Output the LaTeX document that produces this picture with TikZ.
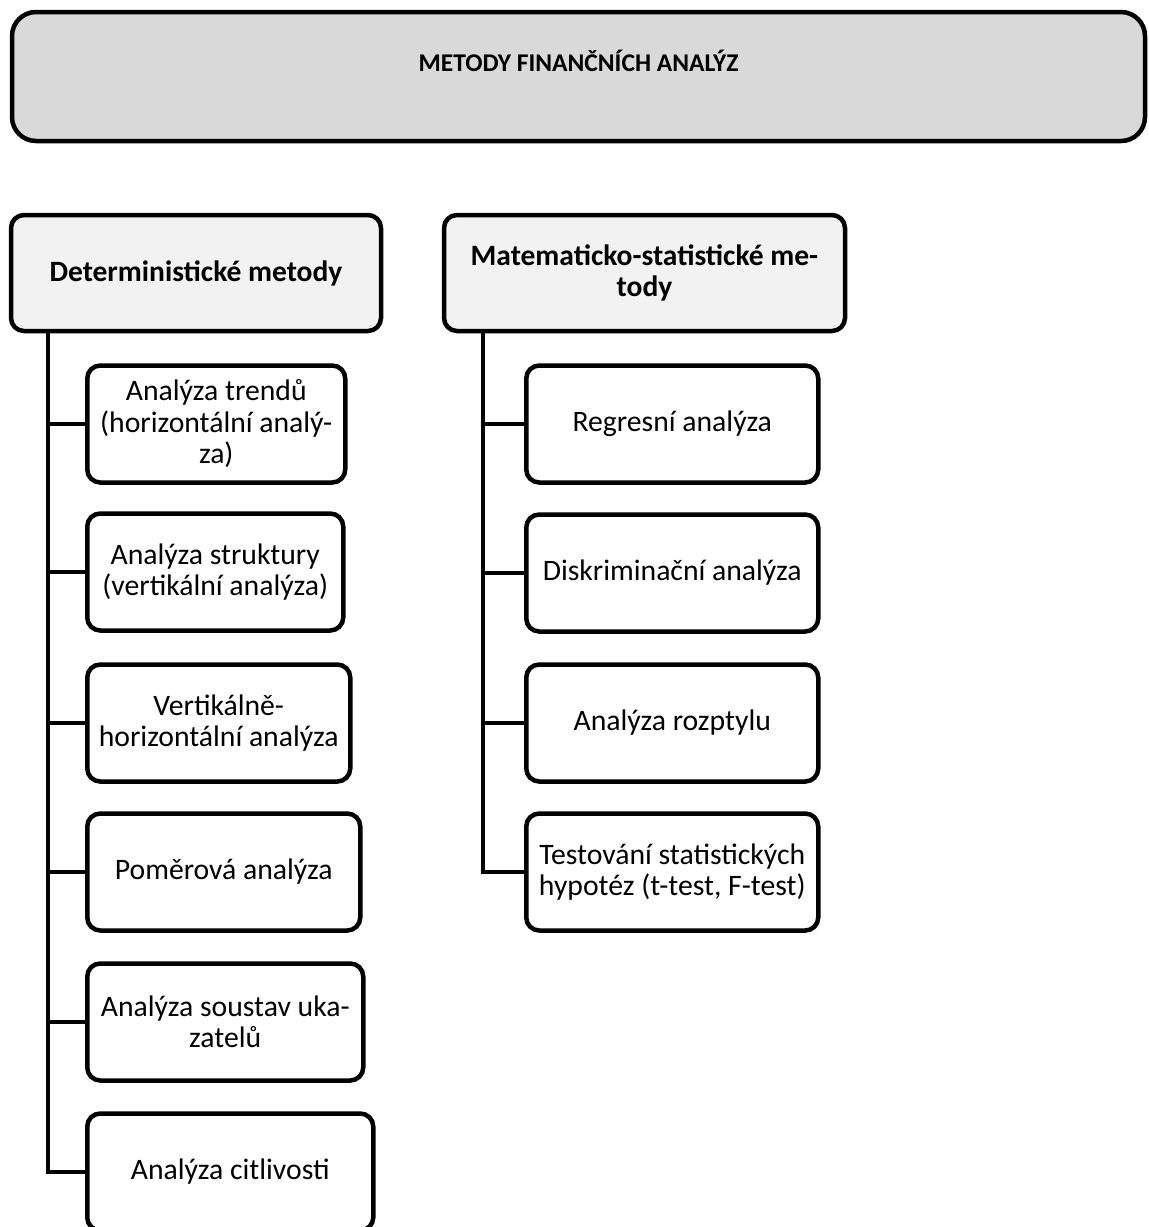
\documentclass[tikz,border=0pt]{standalone}
\usepackage{fontspec}
\setmainfont{Carlito}
\definecolor{hlavni}{HTML}{D9D9D9}
\definecolor{skupina}{HTML}{F2F2F2}
\tikzset{
  ramec/.style={draw, line width=4.5pt, rounded corners=13pt, inner sep=0pt,
    align=center, font=\fontsize{29.7}{31.5}\selectfont},
  hlavnibox/.style={ramec, fill=hlavni, rounded corners=24pt, font=\bfseries\fontsize{25.5}{30}\selectfont},
  skupinabox/.style={ramec, fill=skupina, font=\bfseries\fontsize{29.5}{31.5}\selectfont,
    minimum height=116pt},
  metodabox/.style={ramec, fill=white, minimum height=117pt, anchor=west},
  spoj/.style={line width=4.5pt},
}
\begin{document}
\begin{tikzpicture}[x=1pt, y=-1pt]
  \useasboundingbox (0,0) rectangle (1149,1227);
  % hlavni ramec
  \node[hlavnibox, minimum width=1133pt, text height=59pt, text depth=70pt] (top) at (578.5,76.5)
    {METODY FINANČNÍCH ANALÝZ};
  % dve skupiny metod
  \node[skupinabox, minimum width=370pt] (det) at (196,273) {Deterministické metody};
  \node[skupinabox, minimum width=401pt] (mat) at (644.5,273) {Matematicko-statistické me-\\tody};
  \coordinate (lbus) at (48,0);
  \coordinate (rbus) at (483,0);
  % deterministicke metody
  \foreach \n/\y/\w/\txt in {
      1/424/258/{Analýza trendů\\(horizontální analý-\\za)},
      2/572/256/{Analýza struktury\\(vertikální analýza)},
      3/723/263/{Vertikálně-\\horizontální analýza},
      4/872/273/{Poměrová analýza},
      5/1022/276/{Analýza soustav uka-\\zatelů},
      6/1172/286/{Analýza citlivosti}} {
    \node[metodabox, minimum width=\w pt] (l\n) at (85,\y) {\txt};
    \draw[spoj] (l\n.west) -- (l\n.west -| lbus);
  }
  \draw[spoj] (det.south -| lbus) |- (l6.west);
  % matematicko-statisticke metody
  \foreach \n/\y/\txt in {
      1/424/{Regresní analýza},
      2/573/{Diskriminační analýza},
      3/723/{Analýza rozptylu},
      4/872/{Testování statistických\\hypotéz (t-test, F-test)}} {
    \node[metodabox, minimum width=292pt] (r\n) at (524,\y) {\txt};
    \draw[spoj] (r\n.west) -- (r\n.west -| rbus);
  }
  \draw[spoj] (mat.south -| rbus) |- (r4.west);
\end{tikzpicture}
\end{document}
